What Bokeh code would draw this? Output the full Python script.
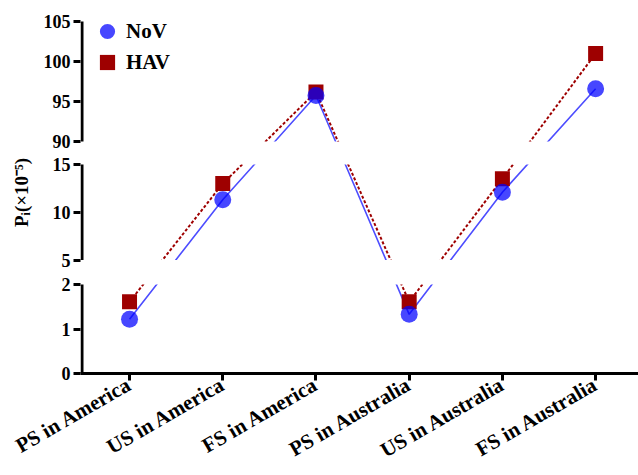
from math import pi
from bokeh.plotting import figure
from bokeh.models import Range1d, FixedTicker, Legend, LegendItem, ColumnDataSource
from bokeh.embed import file_html
from bokeh.resources import INLINE

# ---------------- data ----------------
categories = ["PS in America", "US in America", "FS in America",
              "PS in Australia", "US in Australia", "FS in Australia"]
nov = [1.22, 11.3, 95.75, 1.33, 12.1, 96.6]
hav = [1.61, 13.0, 96.2, 1.61, 13.5, 101.0]

# broken y-axis segments (value ranges) and their ticks
seg_lo = [0, 5, 90]
seg_hi = [2, 15, 105]
y_tick_values = [0, 1, 2, 5, 10, 15, 90, 95, 100, 105]

# ---------------- layout constants ----------------
seg_px = [89.0, 95.5, 120.0]   # drawn height of each segment
gap_px = [24.5, 23.0]          # white gaps between segments
starts = []
pos = 0.0
for i in range(len(seg_px)):
    starts.append(pos)
    pos += seg_px[i]
    if i < len(gap_px):
        pos += gap_px[i]
total = pos
head = 10.0                    # empty room above the top tick (legend space)


def tr(v):
    """Map a value onto the broken-axis coordinate."""
    for i in range(len(seg_lo)):
        if seg_lo[i] <= v <= seg_hi[i]:
            return starts[i] + (v - seg_lo[i]) * seg_px[i] / (seg_hi[i] - seg_lo[i])
    raise ValueError(v)


W, H = 638, 475
BL, BR, BT = 80, 0, 11
BB = H - BT - int(total + head)
x_start, x_end = -0.526, 5.46
frame_w = W - BL - BR
x_per_px = (x_end - x_start) / frame_w

FONT = "Liberation Serif"
BLUE_LINE = "#4d4dff"
BLUE = "#0000ff"
RED = "#9e0000"

p = figure(width=W, height=H, output_backend="svg", toolbar_location=None,
           x_range=Range1d(x_start, x_end), y_range=Range1d(0, total + head),
           min_border_left=BL, min_border_right=BR, min_border_top=BT,
           min_border_bottom=BB)
p.grid.visible = False
p.outline_line_color = None
p.background_fill_color = "white"
p.border_fill_color = "white"

xs = list(range(len(categories)))
src = ColumnDataSource(dict(x=xs,
                            nov=[tr(v) for v in nov],
                            hav=[tr(v) for v in hav]))

r_hav_line = p.line("x", "hav", source=src, line_color=RED, line_width=2,
                    line_dash="3 2")
r_nov_line = p.line("x", "nov", source=src, line_color=BLUE_LINE, line_width=1.6)

# white gaps of the broken axis
p.quad(left=x_start, right=x_end,
       bottom=[tr(seg_hi[i]) for i in range(len(gap_px))],
       top=[tr(seg_lo[i + 1]) for i in range(len(gap_px))],
       fill_color="white", line_color=None)

# y axis line pieces
xl = x_start + 1.5 * x_per_px
p.segment(x0=xl, x1=xl, y0=[tr(v) for v in seg_lo], y1=[tr(v) for v in seg_hi],
          line_color="black", line_width=3, line_cap="butt")

r_hav = p.scatter("x", "hav", source=src, marker="square", size=15,
                  fill_color=RED, line_color=None)
r_nov = p.scatter("x", "nov", source=src, marker="circle", size=17,
                  fill_color=BLUE, fill_alpha=0.72, line_color=None)

# y axis
yax = p.yaxis[0]
yax.ticker = FixedTicker(ticks=[tr(v) for v in y_tick_values])
yax.major_label_overrides = {tr(v): str(v) for v in y_tick_values}
yax.axis_line_color = None
yax.minor_tick_line_color = None
yax.major_tick_line_color = "black"
yax.major_tick_line_width = 3
yax.major_tick_out = 7
yax.major_tick_in = 0
yax.major_label_standoff = 3
yax.major_label_text_font = FONT
yax.major_label_text_font_style = "bold"
yax.major_label_text_font_size = "18px"
yax.major_label_text_color = "black"
yax.axis_label = "P\u1d62(\u00d710\u207b\u2075)"
yax.axis_label_text_font = FONT
yax.axis_label_text_font_style = "bold"
yax.axis_label_text_font_size = "19px"
yax.axis_label_text_color = "black"
yax.axis_label_standoff = 9

# x axis
xax = p.xaxis[0]
xax.ticker = FixedTicker(ticks=xs)
xax.major_label_overrides = {i: c for i, c in enumerate(categories)}
xax.major_label_orientation = pi / 6
xax.axis_line_color = "black"
xax.axis_line_width = 3
xax.minor_tick_line_color = None
xax.major_tick_line_color = "black"
xax.major_tick_line_width = 3
xax.major_tick_out = 7
xax.major_tick_in = 0
xax.major_label_standoff = 2
xax.major_label_text_font = FONT
xax.major_label_text_font_style = "bold"
xax.major_label_text_font_size = "21px"
xax.major_label_text_color = "black"


def make_legend(label, renderer, loc):
    lg = Legend(items=[LegendItem(label=label, renderers=[renderer])], location=loc)
    lg.border_line_color = None
    lg.background_fill_alpha = 0
    lg.padding = 0
    lg.margin = 0
    lg.spacing = 0
    lg.glyph_width = 38
    lg.glyph_height = 38
    lg.label_height = 20
    lg.label_standoff = 0
    lg.label_text_font = FONT
    lg.label_text_font_style = "bold"
    lg.label_text_font_size = "21px"
    lg.label_text_color = "black"
    return lg


p.add_layout(make_legend("NoV", r_nov, (8, 323)))
p.add_layout(make_legend("HAV", r_hav, (8, 292)))

open("out.html", "w").write(file_html(p, INLINE))
